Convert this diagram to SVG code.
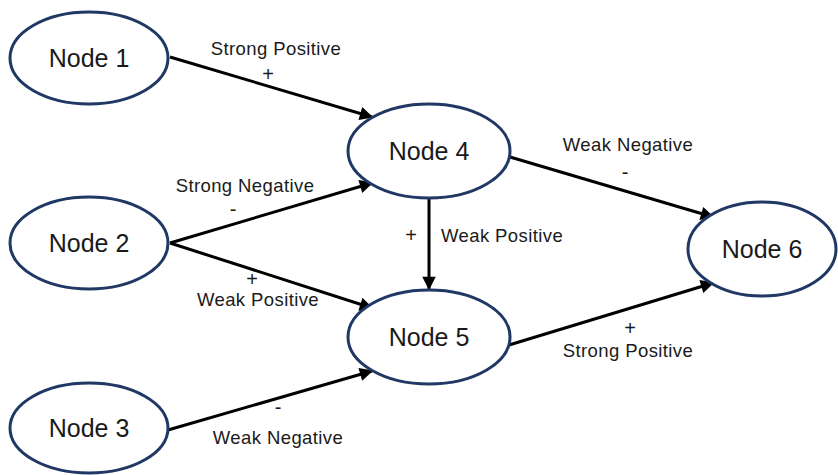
<svg xmlns="http://www.w3.org/2000/svg" width="838" height="475" viewBox="0 0 838 475">
<defs>
<marker id="arr" viewBox="0 0 10 10" refX="9" refY="5" markerWidth="5" markerHeight="4.5" orient="auto" markerUnits="strokeWidth">
<path d="M0,0 L10,5 L0,10 z" fill="#000"/>
</marker>
<style>
.node{fill:#fff;stroke:#1f3864;stroke-width:3}
.nt{font-family:"Liberation Sans",Arial,sans-serif;font-size:25px;fill:#1a1a1a;text-anchor:middle}
.edge{stroke:#000;stroke-width:3;fill:none;marker-end:url(#arr)}
.lb{font-family:"Liberation Sans",Arial,sans-serif;font-size:18.5px;letter-spacing:0.4px;fill:#1a1a1a;text-anchor:middle}
.sg{font-family:"Liberation Sans",Arial,sans-serif;font-size:20px;fill:#1a1a1a;text-anchor:middle}
</style>
</defs>
<rect width="838" height="475" fill="#fff"/>
<g id="connectors">
<line class="edge" x1="170" y1="57" x2="372" y2="117"/>
<line class="edge" x1="170" y1="243" x2="372" y2="183"/>
<line class="edge" x1="170" y1="243" x2="372" y2="308"/>
<line class="edge" x1="168" y1="430" x2="372" y2="371"/>
<line class="edge" x1="429" y1="198" x2="429" y2="289"/>
<line class="edge" x1="510" y1="157" x2="713" y2="217"/>
<line class="edge" x1="509" y1="345" x2="713" y2="283"/>
<text class="lb" x="276" y="55">Strong Positive</text>
<text class="sg" x="268" y="81">+</text>
<text class="lb" x="245" y="192">Strong Negative</text>
<text class="sg" x="233" y="216">-</text>
<text class="sg" x="252" y="286">+</text>
<text class="lb" x="258" y="306">Weak Positive</text>
<text class="sg" x="278" y="414">-</text>
<text class="lb" x="278" y="444">Weak Negative</text>
<text class="sg" x="411" y="242">+</text>
<text class="lb" x="441" y="242" style="text-anchor:start">Weak Positive</text>
<text class="lb" x="628" y="151">Weak Negative</text>
<text class="sg" x="625" y="179">-</text>
<text class="sg" x="630" y="335">+</text>
<text class="lb" x="628" y="357">Strong Positive</text>
</g>
<g id="node1"><ellipse class="node" cx="89" cy="58" rx="79" ry="46"/><text class="nt" x="89" y="67">Node 1</text></g>
<g id="node2"><ellipse class="node" cx="89" cy="243" rx="79" ry="46"/><text class="nt" x="89" y="252">Node 2</text></g>
<g id="node3"><ellipse class="node" cx="89" cy="428" rx="79" ry="45"/><text class="nt" x="89" y="437">Node 3</text></g>
<g id="node4"><ellipse class="node" cx="429" cy="151" rx="81" ry="47"/><text class="nt" x="429" y="160">Node 4</text></g>
<g id="node5"><ellipse class="node" cx="429" cy="337" rx="81" ry="47"/><text class="nt" x="429" y="346">Node 5</text></g>
<g id="node6"><ellipse class="node" cx="762" cy="249" rx="74" ry="47"/><text class="nt" x="762" y="258">Node 6</text></g>
</svg>
